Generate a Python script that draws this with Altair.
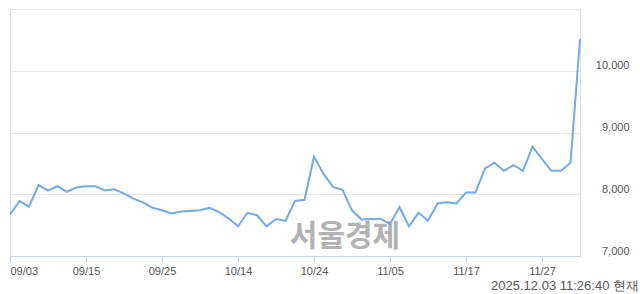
import altair as alt
import pandas as pd

dates = ["09/03", "09/04", "09/05", "09/08", "09/09", "09/10", "09/11", "09/12",
         "09/15", "09/16", "09/17", "09/18", "09/19", "09/22", "09/23", "09/24",
         "09/25", "09/26", "09/29", "09/30", "10/01", "10/02", "10/10", "10/13",
         "10/14", "10/15", "10/16", "10/17", "10/20", "10/21", "10/22", "10/23",
         "10/24", "10/27", "10/28", "10/29", "10/30", "10/31", "11/03", "11/04",
         "11/05", "11/06", "11/07", "11/10", "11/11", "11/12", "11/13", "11/14",
         "11/17", "11/18", "11/19", "11/20", "11/21", "11/24", "11/25", "11/26",
         "11/27", "11/28", "12/01", "12/02", "12/03"]
prices = [7670, 7890, 7800, 8150, 8060, 8130, 8040, 8110,
          8130, 8130, 8060, 8080, 8010, 7930, 7870, 7780,
          7740, 7690, 7720, 7730, 7740, 7780, 7710, 7610,
          7480, 7700, 7660, 7480, 7600, 7570, 7890, 7910,
          8610, 8330, 8120, 8070, 7740, 7590, 7600, 7600,
          7520, 7790, 7480, 7700, 7570, 7850, 7870, 7850,
          8030, 8030, 8420, 8510, 8380, 8470, 8380, 8770,
          8570, 8380, 8380, 8510, 10510]
tick_labels = ["09/03", "09/15", "09/25", "10/14", "10/24", "11/05", "11/17", "11/27"]
y_ticks = [7000, 8000, 9000, 10000, 11000]
watermark = "서울경제"
stamp = "2025.12.03 11:26:40 현재"

df = pd.DataFrame({"date": dates, "price": prices})

x_enc = alt.X("date:O", sort=None,
              scale=alt.Scale(type="point", padding=0),
              axis=alt.Axis(values=tick_labels, title=None, labelAngle=0,
                            labelFlush=True, grid=False,
                            domainColor="#c6d6ec", tickColor="#c6d6ec",
                            tickSize=6, labelPadding=3,
                            labelColor="#555555", labelFontSize=11,
                            labelFont="Liberation Sans"))
y_enc = alt.Y("price:Q",
              scale=alt.Scale(domain=[7000, 11000], nice=False, zero=False),
              axis=alt.Axis(orient="right", values=y_ticks, title=None,
                            domain=False, ticks=False, grid=True,
                            gridColor="#e6e6e6",
                            labelAlign="right", labelPadding=49,
                            labelBaseline="alphabetic", labelOffset=-2,
                            labelColor="#555555", labelFontSize=11,
                            labelFont="Liberation Sans",
                            labelExpr="datum.value >= 11000 ? '' : format(datum.value, ',')"))

base = alt.Chart(df)

wm = alt.Chart(pd.DataFrame({"t": [watermark]})).mark_text(
    font="Noto Sans CJK KR", fontWeight="bold", fontSize=30,
    color="#b2b2b2", align="center", baseline="middle"
).encode(text="t:N", x=alt.value(335), y=alt.value(228))

line = base.mark_line(color="#72aaea", strokeWidth=2).encode(x=x_enc, y=y_enc)

ts = alt.Chart(pd.DataFrame({"t": [stamp]})).mark_text(
    font="Liberation Sans", fontSize=13, color="#555555",
    align="right", baseline="alphabetic"
).encode(text="t:N", x=alt.value(629), y=alt.value(281))

chart = alt.layer(wm, line, ts).properties(
    width=570, height=247,
    autosize=alt.AutoSizeParams(type="none"),
    padding={"left": 10, "top": 9, "right": 60, "bottom": 38},
).configure_view(stroke=None).configure(background="white")

chart.save("out.html", embed_options={"renderer": "svg", "actions": False})
